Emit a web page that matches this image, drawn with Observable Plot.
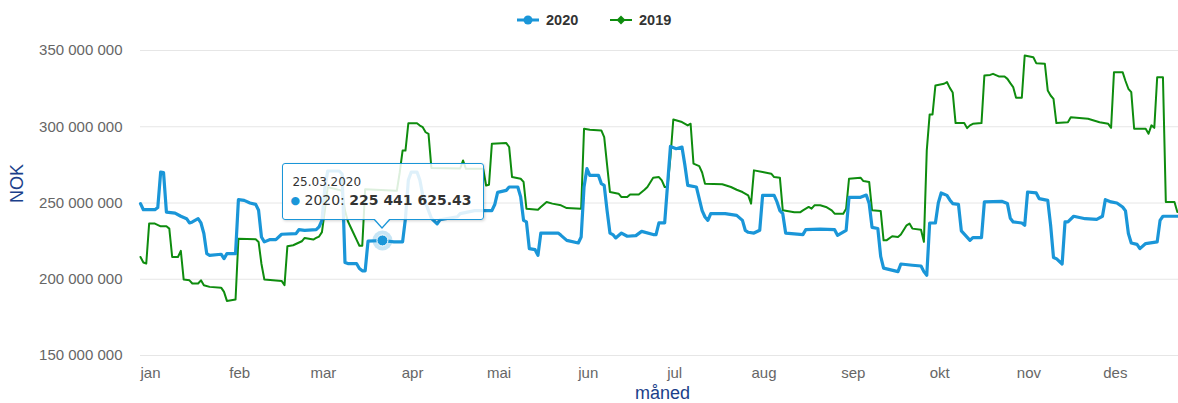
<!DOCTYPE html>
<html><head><meta charset="utf-8">
<script src="https://cdn.jsdelivr.net/npm/d3@7"></script>
<script src="https://cdn.jsdelivr.net/npm/@observablehq/plot@0.6"></script>
<style>
body{margin:0;background:#fff;font-family:"Liberation Sans",Arial,sans-serif;}
#wrap{position:relative;width:1178px;height:403px;overflow:hidden;}
#legend{position:relative;height:40px;}
.li{position:absolute;top:12px;display:flex;align-items:center;font-size:14.5px;font-weight:bold;color:#333;}
.li svg{margin-right:7px;}
#chart{position:absolute;left:0;top:40px;}
#tip{position:absolute;width:202px;height:57px;box-sizing:border-box;border:1px solid #1a96d8;border-radius:3px;background:rgba(255,255,255,0.86);box-shadow:1px 1px 3px rgba(0,0,0,0.18);color:#333;font-family:"DejaVu Sans",Verdana,sans-serif;}
#tip .d{position:absolute;left:9px;top:11px;font-size:12px;line-height:14px;}
#tip .v{position:absolute;left:7px;top:28px;font-size:14px;line-height:17px;white-space:nowrap;}
#tip .v b{font-weight:bold;}
#tip .v .dot{font-size:11px;vertical-align:1px;}
#tip .arr1,#tip .arr2{position:absolute;width:0;height:0;border-style:solid;border-color:transparent;}
#tip .arr1{top:55px;border-width:10px 9px 0 9px;border-top-color:#1a96d8;}
#tip .arr2{top:54px;border-width:9px 8px 0 8px;border-top-color:#fff;}
</style></head><body>
<div id="wrap"><div id="legend"></div><div id="chart"></div></div>
<script>
const seriesNames = ["2020", "2019"];
const seriesColors = ["#1a96d8", "#0e8c0e"];
const axisTitleColor = "#1b3f8a";
const monthLabels = ["jan","feb","mar","apr","mai","jun","jul","aug","sep","okt","nov","des"];
const yTicks = [150e6, 200e6, 250e6, 300e6, 350e6];

// day of year (0 = 1 January) and value in million NOK
const day2020 = [0,1,5,6,7,8,9,12,14,16,17,18,20,21,22,23,24,28,29,30,33,34,36,38,40,41,42,43,45,47,49,54,55,57,
  61,62,63,64,65,69,70,71,72,75,76,77,78,79,84,88,91,92,93,94,96,97,98,100,101,103,104,110,111,116,120,122,123,124,127,
  128,131,132,133,134,135,137,138,139,145,146,148,152,153,154,155,156,159,160,161,162,163,164,165,167,169,172,174,178,179,180,182,183,184,186,188,189,190,193,195,196,197,198,203,207,209,210,211,213,215,216,220,221,222,223,224,230,231,236,241,242,245,246,250,252,253,254,256,257,258,263,264,268,271,272,273,274,276,277,278,280,281,282,284,285,288,289,292,293,299,301,302,303,306,307,308,311,312,315,316,317,318,320,321,322,324,328,332,334,335,337,339,341,342,343,344,346,347,349,353,354,355,360];
const val2020 = [249.6,245.6,245.6,247,270.3,270,244,243.4,241.3,239.7,236.9,237.6,239.7,236.9,230,216.8,215.7,216.4,213.5,216.8,216.8,252.2,251.7,250,249.1,245.2,227.7,224.5,226,226,229.5,229.9,232.5,232.1,
  232.5,234.3,238.6,260,271,271,269,211,210.3,210.3,207,205.5,205.5,225,225.4,224.5,224.5,240,265,270.3,270.3,265,255,245,240,236.3,239,241,243,245,245,245,249,257,258.3,
  260.5,260.5,254,238.6,237.6,220.1,219.4,215.7,230.3,230.3,228.8,225.5,223.8,227.7,260.5,272.5,268.1,268.1,262.7,261.6,245,230.3,229.3,227.1,230.3,228.2,228.6,231.4,229.3,229.3,237,237,262,287.1,285.6,286.7,275,261.6,260.5,245,240.8,238.6,243,243,241.9,238.6,232,230.8,230.3,232.1,255,255,250.7,245,243,230.3,229.3,232.5,232.9,232.5,228.8,232.1,253.7,253.7,255.2,249.7,234,233.3,215,207.3,205,210,209.2,208.7,205,202.6,236.9,236.9,250,256.6,255,252,249.6,249.1,231.7,225.5,227.3,227.3,250.7,251.1,249.6,240,237.6,236.9,235.4,257.2,256.6,252.9,251.7,235.4,214.2,213.5,210,237.6,237.6,241.3,239.7,239.3,241.3,252.2,250.7,250,247.4,244.8,230,223.8,222.9,220.1,223.4,224.5,238.6,241.3,241.3];

const day2019 = [0,1,2,3,5,7,9,10,11,13,14,15,17,18,20,21,22,24,28,29,30,33,34,40,41,42,43,49,50,51,53,56,
  57,60,61,62,63,64,65,70,71,72,74,75,76,77,78,89,90,91,92,93,96,97,98,99,100,101,111,112,113,119,120,121,122,
  127,128,129,132,133,134,138,139,141,143,146,148,153,154,156,160,161,162,163,166,167,169,170,173,175,176,178,180,181,182,183,184,185,188,190,191,192,194,195,196,202,205,207,209,211,212,213,216,219,220,222,223,227,229,230,232,233,234,236,238,240,241,244,245,246,250,251,253,254,257,258,259,261,263,264,266,267,268,271,272,273,274,275,276,279,280,281,282,283,286,287,288,289,292,293,295,296,298,300,301,302,303,304,306,307,310,311,314,315,316,317,318,322,323,329,331,333,336,337,338,341,342,343,344,345,349,350,351,352,353,355,356,359,360];
const val2019 = [214.6,211,210.3,236.5,236.5,234.7,234.7,233.2,214.6,214.6,218.6,199.8,199.3,197.2,197.2,199.3,196.1,195,194.5,191.7,185.8,186.7,226.6,226.2,224.5,210,199.8,198.9,196.1,221.6,222.3,224.9,
  227.1,226,227.1,228,230.9,245,260.4,258,245,238,230,226,222,222,259,258,270,284.4,284.4,302.3,302.3,300.8,299.7,296.4,295.3,273,272.6,277.9,272.4,272.4,261.5,262,288.9,
  289.3,286.7,267,265.9,263.8,246.3,245.6,247.4,250.7,249.6,248.5,246.7,246.3,298.7,298,297.6,293.2,275,257.2,256.1,253.9,253.9,255.6,255.6,258.7,260.5,266.6,267,264.8,260.5,260.5,280,304.8,303.1,300.9,302,275.8,274.2,270,262.7,262.3,260.5,258.7,257.2,255,249.6,271.4,270.3,269.2,267,266.6,245.2,243.9,243.9,245.2,247.4,246.3,248.5,248.5,247.4,245.2,243,243,246.3,265.9,266.6,264.4,263.8,245.2,244.8,225.5,225.5,228.2,227.7,229.3,235.4,236.5,233.2,232.5,224.5,284.5,308.1,308.1,327.1,328.2,329.3,325.5,322.5,302.4,302.4,299.1,300.9,301.9,302.4,333.6,334,334.7,333,333,331.4,328.6,326,319,319,346.7,345.6,341.7,341.3,323.8,320.5,318.3,302.4,303,306.3,305.2,304.1,303,301.9,299.3,335.8,335.8,330,324.9,322.7,298.7,298.7,295.4,300.9,299.3,332.5,332.5,250.7,250.7,244.1];

const tipDay = 84;              // 25.03.2020
const tipLabel = "25.03.2020";
const tipValue = 225441625.43;
const lastVisibleDay = 360.4;

const DAY = 864e5;
const jan1 = Date.UTC(2020, 0, 1);
const toDate = d => new Date(jan1 + d * DAY);
const rows2020 = day2020.map((d, i) => ({date: toDate(d), value: val2020[i] * 1e6}));
const rows2019 = day2019.map((d, i) => ({date: toDate(d), value: val2019[i] * 1e6}));
const tipRow = [{date: toDate(tipDay), value: tipValue}];
const monthStarts = monthLabels.map((m, i) => new Date(Date.UTC(2020, i, 1)));
const fmtNum = v => d3.format(",")(v).replace(/,/g, " ");

const chart = Plot.plot({
  width: 1178, height: 363,
  marginLeft: 140, marginRight: 0, marginTop: 10, marginBottom: 48,
  style: {fontFamily: '"Liberation Sans", Arial, sans-serif', fontSize: "15px", background: "transparent", overflow: "visible"},
  x: {type: "utc", domain: [toDate(0), toDate(lastVisibleDay)]},
  y: {domain: [150e6, 350e6]},
  marks: [
    Plot.gridY(yTicks, {stroke: "#e6e6e6", strokeOpacity: 1}),
    Plot.axisY(yTicks, {tickSize: 0, tickPadding: 18, tickFormat: fmtNum, fill: "#666", fontSize: 15, label: null}),
    Plot.axisX(monthStarts, {tickSize: 0, tickPadding: 12, dx: 10, tickFormat: d => monthLabels[d.getUTCMonth()], fill: "#666", fontSize: 15, label: null}),
    Plot.line(rows2019, {x: "date", y: "value", stroke: seriesColors[1], strokeWidth: 2}),
    Plot.line(rows2020, {x: "date", y: "value", stroke: seriesColors[0], strokeWidth: 3.2}),
    Plot.dot(tipRow, {x: "date", y: "value", r: 10, fill: seriesColors[0], fillOpacity: 0.25}),
    Plot.dot(tipRow, {x: "date", y: "value", r: 5.5, fill: seriesColors[0], stroke: "#fff", strokeWidth: 1}),
    Plot.text(["NOK"], {frameAnchor: "left", dx: -123, rotate: -90, fill: axisTitleColor, fontSize: 18}),
    Plot.text(["måned"], {frameAnchor: "bottom", dy: 43, dx: 3, fill: axisTitleColor, fontSize: 18})
  ]
});
document.getElementById("chart").appendChild(chart);

// legend
const legend = document.getElementById("legend");
const legendX = [517, 610];
seriesNames.forEach((name, i) => {
  const el = document.createElement("div");
  el.className = "li";
  el.style.left = legendX[i] + "px";
  const sym = i === 0
    ? `<circle cx="11" cy="6" r="4.5" fill="${seriesColors[i]}"/>`
    : `<path d="M11 1.5 L15.5 6 L11 10.5 L6.5 6 Z" fill="${seriesColors[i]}"/>`;
  el.innerHTML = `<svg width="22" height="12"><line x1="0" x2="22" y1="6" y2="6" stroke="${seriesColors[i]}" stroke-width="${i===0?3:2}"/>${sym}</svg>${name}`;
  legend.appendChild(el);
});

// tooltip positioned by the chart's scales
const px = chart.scale("x").apply(tipRow[0].date);
const py = 40 + chart.scale("y").apply(tipRow[0].value);
const boxLeft = px - 99.5;
const tip = document.createElement("div");
tip.id = "tip";
tip.style.left = boxLeft + "px";
tip.style.top = (py - 77) + "px";
const [ip, fp] = tipValue.toFixed(2).split(".");
const arrX = px - boxLeft - 1;
tip.innerHTML = `<div class="d">${tipLabel}</div><div class="v"><span class="dot" style="color:${seriesColors[0]}">●</span> ${seriesNames[0]}: <b>${fmtNum(+ip)}.${fp}</b></div>` +
  `<div class="arr1" style="left:${arrX - 9}px"></div><div class="arr2" style="left:${arrX - 8}px"></div>`;
document.getElementById("wrap").appendChild(tip);
</script>
</body></html>
